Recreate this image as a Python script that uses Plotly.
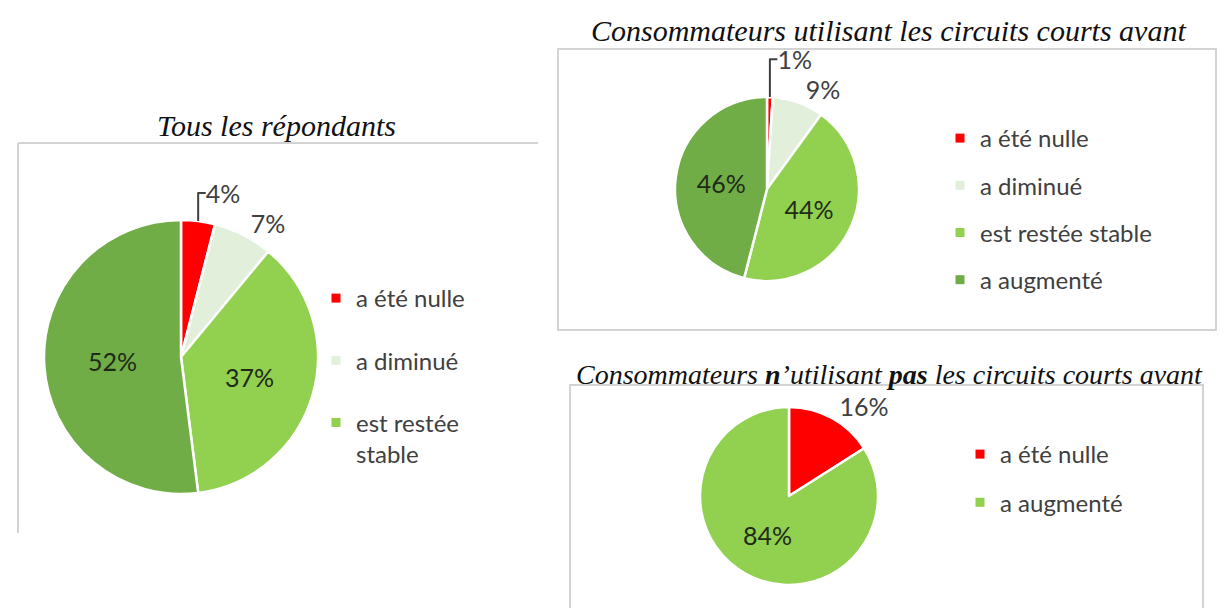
import plotly.graph_objects as go

W, H = 1228, 608

# données
categories = ["a été nulle", "a diminué", "est restée stable", "a augmenté"]
tous_vals = [4, 7, 37, 52]
avant_vals = [1, 9, 44, 46]
pas_cats = ["a été nulle", "a augmenté"]
pas_vals = [16, 84]

titres = [
    "<i>Tous les répondants</i>",
    "<i>Consommateurs utilisant les circuits courts avant</i>",
    "<i>Consommateurs <b>n</b>’utilisant <b>pas</b> les circuits courts avant</i>",
]

ROUGE, CLAIR, VERT, FONCE = "#ff0000", "#e2efda", "#92d050", "#70ad47"
couleurs4 = [ROUGE, CLAIR, VERT, FONCE]
couleurs2 = [ROUGE, VERT]

LABEL_FONT = "Lato, 'Open Sans', sans-serif"
TITLE_FONT = "'Liberation Serif', 'DejaVu Serif', serif"


def px(x):
    return x / W


def py(y):
    return 1 - y / H


def dom(cx, cy, r):
    return dict(x=[px(cx - r), px(cx + r)], y=[py(cy + r), py(cy - r)])


fig = go.Figure()

pies = [
    (categories, tous_vals, couleurs4, ["outside", "outside", "inside", "inside"], (173, 349, 137)),
    (categories, avant_vals, couleurs4, ["outside", "outside", "inside", "inside"], (759, 181, 92)),
    (pas_cats, pas_vals, couleurs2, ["outside", "inside"], (781, 488, 89)),
]

for labels, vals, cols, pos, (cx, cy, r) in pies:
    fig.add_trace(go.Pie(
        labels=labels, values=vals, sort=False, direction="clockwise", rotation=0,
        marker=dict(colors=cols, line=dict(color="white", width=2.5)),
        texttemplate="%{value}%", textposition=pos,
        insidetextorientation="horizontal",
        insidetextfont=dict(family=LABEL_FONT, size=25, color="#1f2a17"),
        outsidetextfont=dict(family=LABEL_FONT, size=25, color="#404040"),
        domain=dom(cx, cy, r), showlegend=False, hoverinfo="label+percent",
    ))

# légendes (la première ne montre que trois entrées, comme sur l'original)
legendes = [
    ("legend", ["a été nulle", "a diminué", "est restée<br>stable"], couleurs4[:3]),
    ("legend2", categories, couleurs4),
    ("legend3", pas_cats, couleurs2),
]
for leg, labs, cols in legendes:
    for lab, col in zip(labs, cols):
        fig.add_trace(go.Scatter(
            x=[None], y=[None], mode="markers", name=lab,
            marker=dict(symbol="square", size=9, color=col),
            legend=leg, legendgroup=leg + lab, showlegend=True,
        ))

leg_common = dict(xanchor="left", yanchor="top", bgcolor="rgba(0,0,0,0)",
                  valign="top", traceorder="grouped")
leg_font = dict(family=LABEL_FONT, size=24, color="#404040")
fig.update_layout(
    legend=dict(x=px(308), y=py(268), tracegroupgap=28, font=leg_font, **leg_common),
    legend2=dict(x=px(932), y=py(108), tracegroupgap=13, font=leg_font, **leg_common),
    legend3=dict(x=px(952), y=py(424), tracegroupgap=14, font=leg_font, **leg_common),
)

# cadres
box = dict(color="#d3d3d3", width=2)
fig.add_shape(type="line", xref="paper", yref="paper", x0=px(10), x1=px(530), y0=py(135), y1=py(135), line=box)
fig.add_shape(type="line", xref="paper", yref="paper", x0=px(10), x1=px(10), y0=py(135), y1=py(525), line=box)
fig.add_shape(type="rect", xref="paper", yref="paper", x0=px(550), x1=px(1208), y0=py(41), y1=py(322), line=box)
fig.add_shape(type="rect", xref="paper", yref="paper", x0=px(562), x1=px(1195), y0=py(377), y1=py(640), line=box)

# titres
for txt, (x, y), size in zip(titres, [(268, 118), (880, 22), (881, 366)], [30, 30, 28]):
    fig.add_annotation(text=txt, x=px(x), y=py(y), xref="paper", yref="paper",
                       showarrow=False, xanchor="center", yanchor="middle",
                       font=dict(family=TITLE_FONT, size=size, color="#111111"))

fig.update_layout(
    width=W, height=H,
    margin=dict(l=0, r=0, t=0, b=0),
    paper_bgcolor="white", plot_bgcolor="white",
    xaxis=dict(visible=False), yaxis=dict(visible=False),
)

fig.write_html("out.html")
